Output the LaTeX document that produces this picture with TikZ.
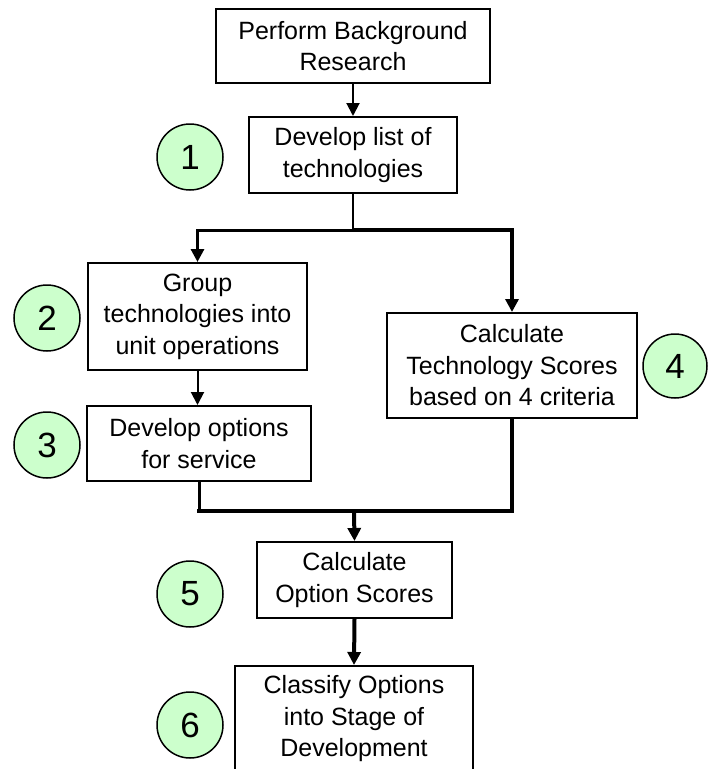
\documentclass[tikz,border=0pt]{standalone}
\usepackage{fontspec}
\setmainfont{Liberation Sans}
\usetikzlibrary{arrows.meta}
\definecolor{numfill}{HTML}{CCFFCC}
\begin{document}
\begin{tikzpicture}[x=1pt,y=-1pt,
  box/.style={draw,line width=2pt,fill=white,align=center,inner sep=0pt,font=\fontsize{25}{31.5}\selectfont},
  num/.style={circle,draw,line width=1.5pt,fill=numfill,minimum size=66pt,inner sep=0pt,font=\fontsize{35}{35}\selectfont},
  link/.style={line width=2pt},
  mid/.style={line width=3pt},
  heavy/.style={line width=4pt},
  tip/.style={-{Triangle[length=13pt,width=13pt]}}
]
\useasboundingbox (0,0) rectangle (708,769);
\clip (0,0) rectangle (708,769);
\fill[white] (0,0) rectangle (708,769);

\node[box,minimum width=274pt,minimum height=74pt] (b1) at (353,46) {Perform Background\\Research};
\node[box,minimum width=208pt,minimum height=76pt] (b2) at (353,155) {Develop list of\\technologies};
\node[box,minimum width=219pt,minimum height=107pt] (b3) at (197.5,316.5) {Group\\technologies into\\unit operations};
\node[box,minimum width=224pt,minimum height=75pt] (b3b) at (199,443.5) {Develop options\\for service};
\node[box,minimum width=250pt,minimum height=105pt] (b4) at (512,365.5) {Calculate\\Technology Scores\\based on 4 criteria};
\node[box,minimum width=195pt,minimum height=76pt] (b5) at (354.5,580) {Calculate\\Option Scores};
\node[box,minimum width=238pt,minimum height=106pt,anchor=north] (b6) at (354,665) {Classify Options\\into Stage of\\Development};

\node[num] (c1) at (190,157) {1};
\node[num] (c2) at (47,318) {2};
\node[num] (c3) at (47,445) {3};
\node[num,minimum size=64pt] (c4) at (675,366) {4};
\node[num] (c5) at (190,594) {5};
\node[num] (c6) at (190,725) {6};

\coordinate (j1) at (353,230);
\coordinate (j2) at (354,511);

\draw[link,tip] (b1.south) -- (b2.north);
\draw[link] (b2.south) -- (j1);
\draw[mid,tip] (j1) -| (b3.north);
\draw[heavy,tip] (j1) -| (b4.north);
\draw[link,tip] (b3.south) -- (b3.south |- b3b.north);
\draw[mid] (b3b.south) -- (b3b.south |- j2);
\draw[heavy,line cap=rect] (b4.south) |- (b3b.south |- j2);
\draw[heavy,tip] (j2) -- (b5.north);
\draw[heavy,tip] (b5.south) -- (b6.north);
\end{tikzpicture}
\end{document}
